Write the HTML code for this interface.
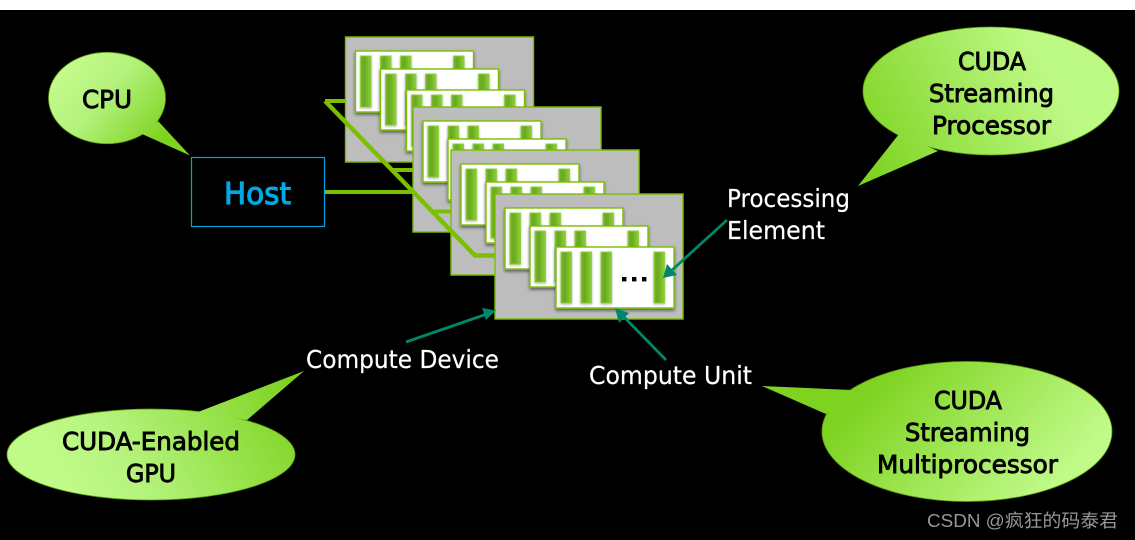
<!DOCTYPE html>
<html lang="en">
<head>
<meta charset="utf-8">
<title>CUDA architecture diagram</title>
<style>
html,body{margin:0;padding:0;background:#000;width:1135px;height:540px;overflow:hidden}
svg{display:block}
text{font-family:"DejaVu Sans","Liberation Sans",sans-serif}
.w{fill:#fff;font-size:25px;stroke:#fff;stroke-width:.2px}
.k{fill:#000;font-size:25px;stroke:#000;stroke-width:.9px}
</style>
</head>
<body>
<svg xmlns="http://www.w3.org/2000/svg" width="1135" height="540" viewBox="0 0 1135 540">
<defs>
<linearGradient id="bar" x1="0" y1="0" x2="1" y2="0">
<stop offset="0" stop-color="#76b828"/><stop offset=".35" stop-color="#68a820"/><stop offset=".7" stop-color="#7cbe2c"/><stop offset="1" stop-color="#8ecf3c"/>
</linearGradient>
<linearGradient id="g1" gradientUnits="userSpaceOnUse" x1="70" y1="62" x2="160" y2="140">
<stop offset="0" stop-color="#c4fb8c"/><stop offset=".4" stop-color="#b4f27c"/><stop offset="1" stop-color="#7ed321"/>
</linearGradient>
<linearGradient id="g2" gradientUnits="userSpaceOnUse" x1="1050" y1="80" x2="870" y2="175">
<stop offset="0" stop-color="#bdf985"/><stop offset="1" stop-color="#7ed321"/>
</linearGradient>
<linearGradient id="g3" gradientUnits="userSpaceOnUse" x1="70" y1="490" x2="285" y2="375">
<stop offset="0" stop-color="#c0fa88"/><stop offset=".25" stop-color="#b6f47e"/><stop offset="1" stop-color="#7ed321"/>
</linearGradient>
<linearGradient id="g4" gradientUnits="userSpaceOnUse" x1="1040" y1="500" x2="890" y2="365">
<stop offset="0" stop-color="#c0fa88"/><stop offset="1" stop-color="#7ed321"/>
</linearGradient>
<filter id="sh" x="-10%" y="-10%" width="125%" height="125%">
<feDropShadow dx="0" dy="2" stdDeviation="1.6" flood-color="#000" flood-opacity=".5"/>
</filter>
<filter id="bs" x="-40%" y="-10%" width="180%" height="125%">
<feDropShadow dx="0" dy="1" stdDeviation="1.2" flood-color="#000" flood-opacity=".3"/>
</filter>
<g id="barset" filter="url(#bs)">
<rect x="5" y="5" width="10.5" height="51" fill="url(#bar)" stroke="#8fd03e" stroke-width=".9"/>
<rect x="25" y="5" width="10.5" height="51" fill="url(#bar)" stroke="#8fd03e" stroke-width=".9"/>
<rect x="45" y="5" width="10.5" height="51" fill="url(#bar)" stroke="#8fd03e" stroke-width=".9"/>
<rect x="98" y="5" width="10.5" height="51" fill="url(#bar)" stroke="#8fd03e" stroke-width=".9"/>
</g>
<g id="card">
<rect x="0" y="0" width="118" height="61" fill="#fff" stroke="#7abf00" stroke-width="1.4" filter="url(#sh)"/>
<use href="#barset"/>
</g>
<g id="device">
<rect x="0" y="0" width="188" height="125" fill="#bdbdbd" stroke="#7abf00" stroke-width="1.4"/>
<use href="#card" x="10" y="14"/>
<use href="#card" x="35" y="32"/>
<use href="#card" x="61" y="53"/>
</g>
</defs>

<rect x="0" y="0" width="1135" height="540" fill="#000"/>
<rect x="0" y="0" width="1135" height="10" fill="#fff"/>

<use href="#device" x="345.5" y="37"/>
<rect x="325" y="99" width="21" height="4" fill="#7abf00"/>
<rect x="392" y="168" width="21" height="4" fill="#7abf00"/>
<rect x="324" y="190" width="89" height="4" fill="#7abf00"/>
<use href="#device" x="413" y="107"/>
<rect x="433" y="209.5" width="18" height="4" fill="#7abf00"/>
<use href="#device" x="451" y="150"/>
<polyline points="325,101 475,255.5 495,255.5" fill="none" stroke="#7abf00" stroke-width="4.4"/>
<use href="#device" x="495" y="194"/>

<rect x="622" y="277" width="4.4" height="4.4" fill="#000"/>
<rect x="632" y="277" width="4.4" height="4.4" fill="#000"/>
<rect x="642" y="277" width="4.4" height="4.4" fill="#000"/>

<rect x="191.5" y="157.5" width="133" height="69" fill="#000" stroke="#00a5dc" stroke-width="1.2"/>
<text x="224" y="204" font-size="30" fill="#00a9e6" stroke="#00a9e6" stroke-width="1.1" textLength="67" lengthAdjust="spacingAndGlyphs">Host</text>

<ellipse cx="107" cy="98" rx="58.5" ry="45.7" fill="url(#g1)" stroke="#5f9e0c" stroke-width=".8"/>
<polygon points="158,121 142,134 190,155.5" fill="url(#g1)"/>

<ellipse cx="991" cy="91" rx="128" ry="64" fill="url(#g2)" stroke="#5f9e0c" stroke-width=".8"/>
<polygon points="899,134 938,151 858,186" fill="url(#g2)"/>

<ellipse cx="151" cy="454.5" rx="144" ry="45.5" fill="url(#g3)" stroke="#5f9e0c" stroke-width=".8"/>
<polygon points="198,412 247,420 304,371" fill="url(#g3)"/>

<ellipse cx="967" cy="431.5" rx="145" ry="70" fill="url(#g4)" stroke="#5f9e0c" stroke-width=".8"/>
<polygon points="851,390 826,414 762,386" fill="url(#g4)"/>

<text class="k" x="82" y="108" textLength="50" lengthAdjust="spacingAndGlyphs">CPU</text>
<text class="k" x="958" y="70" textLength="68" lengthAdjust="spacingAndGlyphs">CUDA</text>
<text class="k" x="929" y="102" textLength="125" lengthAdjust="spacingAndGlyphs">Streaming</text>
<text class="k" x="932" y="134" textLength="119" lengthAdjust="spacingAndGlyphs">Processor</text>
<text class="k" x="62" y="450" textLength="178" lengthAdjust="spacingAndGlyphs">CUDA-Enabled</text>
<text class="k" x="126" y="482" textLength="50" lengthAdjust="spacingAndGlyphs">GPU</text>
<text class="k" x="934" y="409" textLength="68" lengthAdjust="spacingAndGlyphs">CUDA</text>
<text class="k" x="905" y="441" textLength="125" lengthAdjust="spacingAndGlyphs">Streaming</text>
<text class="k" x="877" y="473" textLength="181" lengthAdjust="spacingAndGlyphs">Multiprocessor</text>

<text class="w" x="727" y="207" textLength="123" lengthAdjust="spacingAndGlyphs">Processing</text>
<text class="w" x="727" y="239" textLength="98" lengthAdjust="spacingAndGlyphs">Element</text>
<text class="w" x="306" y="368" textLength="193" lengthAdjust="spacingAndGlyphs">Compute Device</text>
<text class="w" x="589" y="384" textLength="163" lengthAdjust="spacingAndGlyphs">Compute Unit</text>

<g stroke="#00866b" stroke-width="2.8" fill="#00866b">
<line x1="727" y1="220" x2="671" y2="271"/>
<polygon points="663,278 667,264 677,275" stroke="none"/>
<line x1="666" y1="360" x2="622" y2="315"/>
<polygon points="615,308 629,313 619,323" stroke="none"/>
<line x1="406" y1="342" x2="487" y2="314"/>
<polygon points="496,310.5 486,320 482,308" stroke="none"/>
</g>

<text x="927" y="527" font-size="18" fill="#969696" style='font-family:"Liberation Sans","Noto Sans CJK SC",sans-serif' textLength="191" lengthAdjust="spacingAndGlyphs">CSDN @疯狂的码泰君</text>
</svg>
</body>
</html>
